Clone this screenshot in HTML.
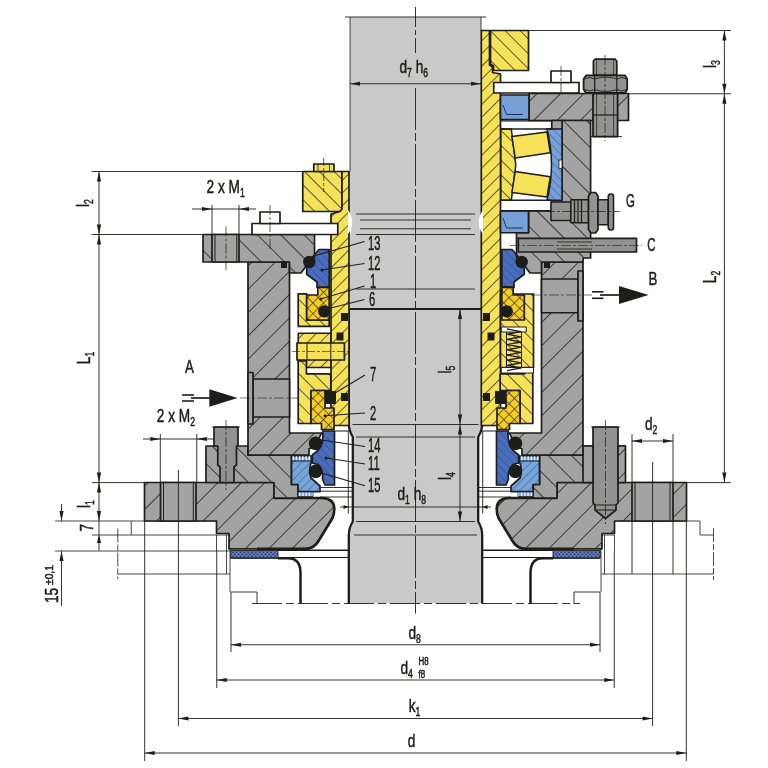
<!DOCTYPE html>
<html><head><meta charset="utf-8"><title>Seal drawing</title>
<style>html,body{margin:0;padding:0;background:#fff}svg{display:block;will-change:transform}text{font-family:"Liberation Sans",sans-serif;fill:#1d1d1b;stroke:#1d1d1b;stroke-width:0.5px}</style>
</head><body>
<svg width="768" height="768" viewBox="0 0 768 768">
<rect width="768" height="768" fill="#fff"/>
<defs>
<pattern id="hg" patternUnits="userSpaceOnUse" width="16.5" height="16.5" patternTransform="rotate(-45)"><line x1="0" y1="0" x2="16.5" y2="0" stroke="#1d1d1b" stroke-width="1.55"/></pattern>
<pattern id="hgb" patternUnits="userSpaceOnUse" width="16.5" height="16.5" patternTransform="rotate(45)"><line x1="0" y1="0" x2="16.5" y2="0" stroke="#1d1d1b" stroke-width="1.55"/></pattern>
<pattern id="hy" patternUnits="userSpaceOnUse" width="9" height="9" patternTransform="rotate(-45)"><line x1="0" y1="0" x2="9" y2="0" stroke="#1d1d1b" stroke-width="1.35"/></pattern>
<pattern id="hyb" patternUnits="userSpaceOnUse" width="10.5" height="10.5" patternTransform="rotate(45)"><line x1="0" y1="0" x2="10.5" y2="0" stroke="#1d1d1b" stroke-width="1.35"/></pattern>
<pattern id="hx" patternUnits="userSpaceOnUse" width="7.5" height="7.5" patternTransform="rotate(45)"><line x1="0" y1="0" x2="7.5" y2="0" stroke="#1d1d1b" stroke-width="1.2"/><line x1="0" y1="0" x2="0" y2="7.5" stroke="#1d1d1b" stroke-width="1.2"/></pattern>
<pattern id="hb" patternUnits="userSpaceOnUse" width="6" height="6" patternTransform="rotate(-45)"><line x1="0" y1="0" x2="6" y2="0" stroke="#1c2f6a" stroke-width="0.7"/></pattern>
<pattern id="hbb" patternUnits="userSpaceOnUse" width="6" height="6" patternTransform="rotate(45)"><line x1="0" y1="0" x2="6" y2="0" stroke="#1c2f6a" stroke-width="0.7"/></pattern>
<pattern id="gk" patternUnits="userSpaceOnUse" width="2.7" height="2.7" patternTransform="rotate(45)"><line x1="0" y1="0" x2="2.7" y2="0" stroke="#a9c6ea" stroke-width="0.85"/><line x1="0" y1="0" x2="0" y2="2.7" stroke="#a9c6ea" stroke-width="0.85"/></pattern>
</defs>
<path d="M 350 17 L 350 309 L 348.8 309 L 348.8 424 Q 349 431 352.8 437 L 352.8 521.5 Q 348.8 528 348.8 535 L 348.8 603.5 L 482.2 603.5 L 482.2 535 Q 482.2 528 478.2 521.5 L 478.2 437 Q 482 431 482.2 424 L 482.2 309 L 481 309 L 481 17 Z" fill="#c9c9c9" stroke="none" stroke-width="1.7" stroke-linejoin="round" />
<line x1="345" y1="17" x2="486" y2="17" stroke="#1d1d1b" stroke-width="0.9"/>
<line x1="350" y1="17" x2="350" y2="171.5" stroke="#1d1d1b" stroke-width="0.8"/>
<line x1="481" y1="17" x2="481" y2="30.5" stroke="#1d1d1b" stroke-width="0.8"/>
<path d="M 348.8 309 L 348.8 424 Q 349 431 352.8 437 L 352.8 521.5 Q 348.8 528 348.8 535 L 348.8 603.5" fill="none" stroke="#1d1d1b" stroke-width="2.3" stroke-linejoin="round" />
<path d="M 482.2 309 L 482.2 424 Q 482 431 478.2 437 L 478.2 521.5 Q 482.2 528 482.2 535 L 482.2 603.5" fill="none" stroke="#1d1d1b" stroke-width="2.3" stroke-linejoin="round" />
<line x1="350" y1="309" x2="481" y2="309" stroke="#1d1d1b" stroke-width="2"/>
<line x1="356" y1="214" x2="475" y2="214" stroke="#1d1d1b" stroke-width="0.9"/>
<line x1="360" y1="220" x2="471" y2="220" stroke="#1d1d1b" stroke-width="0.9"/>
<line x1="360" y1="228.75" x2="471" y2="228.75" stroke="#1d1d1b" stroke-width="0.9"/>
<line x1="356" y1="234.5" x2="475" y2="234.5" stroke="#1d1d1b" stroke-width="0.9"/>
<line x1="356" y1="289" x2="475" y2="289" stroke="#1d1d1b" stroke-width="0.9"/>
<line x1="356" y1="437" x2="475" y2="437" stroke="#1d1d1b" stroke-width="0.9"/>
<line x1="356" y1="521.5" x2="475" y2="521.5" stroke="#1d1d1b" stroke-width="0.9"/>
<line x1="352.5" y1="424.5" x2="478.5" y2="424.5" stroke="#1d1d1b" stroke-width="0.9"/>
<line x1="354" y1="535" x2="477" y2="535" stroke="#1d1d1b" stroke-width="0.9"/>
<path d="M 350 212 Q 353.4 224 350 236 Z" fill="#fff" stroke="none" stroke-width="1.7" stroke-linejoin="round" />
<path d="M 481 212 Q 477.6 224 481 236 Z" fill="#fff" stroke="none" stroke-width="1.7" stroke-linejoin="round" />
<line x1="55" y1="521" x2="216.5" y2="521" stroke="#1d1d1b" stroke-width="0.8"/>
<line x1="92" y1="535" x2="229" y2="535" stroke="#1d1d1b" stroke-width="0.8"/>
<line x1="55" y1="551" x2="230" y2="551" stroke="#1d1d1b" stroke-width="0.8"/>
<line x1="118" y1="574" x2="230" y2="574" stroke="#1d1d1b" stroke-width="0.8"/>
<line x1="131.25" y1="521" x2="131.25" y2="535" stroke="#1d1d1b" stroke-width="0.8"/>
<line x1="117.75" y1="528.5" x2="117.75" y2="579" stroke="#1d1d1b" stroke-width="0.8" stroke-dasharray="14 2 6 2"/>
<line x1="226.5" y1="535" x2="226.5" y2="574" stroke="#1d1d1b" stroke-width="0.8"/>
<line x1="604.5" y1="535" x2="604.5" y2="574" stroke="#1d1d1b" stroke-width="0.8"/>
<line x1="230" y1="535" x2="230" y2="592" stroke="#1d1d1b" stroke-width="0.8"/>
<line x1="601" y1="535" x2="601" y2="592" stroke="#1d1d1b" stroke-width="0.8"/>
<line x1="216.5" y1="535" x2="216.5" y2="551" stroke="#1d1d1b" stroke-width="0.8"/>
<line x1="614.5" y1="535" x2="614.5" y2="551" stroke="#1d1d1b" stroke-width="0.8"/>
<path d="M 231 592 L 257 592 L 257 604" fill="none" stroke="#1d1d1b" stroke-width="0.9" stroke-linejoin="round" />
<path d="M 600 592 L 574 592 L 574 604" fill="none" stroke="#1d1d1b" stroke-width="0.9" stroke-linejoin="round" />
<line x1="614.5" y1="521" x2="700" y2="521" stroke="#1d1d1b" stroke-width="0.8"/>
<path d="M 700 521 L 700 535 L 713.5 535" fill="none" stroke="#1d1d1b" stroke-width="0.8" stroke-linejoin="round" />
<line x1="713.5" y1="528" x2="713.5" y2="580" stroke="#1d1d1b" stroke-width="0.8" stroke-dasharray="14 2 6 2"/>
<line x1="601" y1="574" x2="713.5" y2="574" stroke="#1d1d1b" stroke-width="0.8"/>
<line x1="601" y1="535" x2="614.5" y2="535" stroke="#1d1d1b" stroke-width="0.8"/>
<line x1="252" y1="603.5" x2="580" y2="603.5" stroke="#1d1d1b" stroke-width="0.9" stroke-dasharray="30 4 8 4"/>
<path d="M 144.5 482.5 L 274 482.5 L 274 498 L 322 498 Q 334.3 498.5 334.3 509 Q 334.3 514 332.5 518 L 318.5 541 Q 314 548.8 305 548.8 L 229 548.8 L 229 533.5 L 216.5 533.5 L 216.5 521 L 144.5 521 Z" fill="#a3a3a3" stroke="none"/>
<path d="M 144.5 482.5 L 274 482.5 L 274 498 L 322 498 Q 334.3 498.5 334.3 509 Q 334.3 514 332.5 518 L 318.5 541 Q 314 548.8 305 548.8 L 229 548.8 L 229 533.5 L 216.5 533.5 L 216.5 521 L 144.5 521 Z" fill="url(#hg)" stroke="#1d1d1b" stroke-width="1.7" stroke-linejoin="round" />
<path d="M 686.5 482.5 L 557 482.5 L 557 498 L 509 498 Q 496.7 498.5 496.7 509 Q 496.7 514 498.5 518 L 512.5 541 Q 517 548.8 526 548.8 L 602 548.8 L 602 533.5 L 614.5 533.5 L 614.5 521 L 686.5 521 Z" fill="#a3a3a3" stroke="none"/>
<path d="M 686.5 482.5 L 557 482.5 L 557 498 L 509 498 Q 496.7 498.5 496.7 509 Q 496.7 514 498.5 518 L 512.5 541 Q 517 548.8 526 548.8 L 602 548.8 L 602 533.5 L 614.5 533.5 L 614.5 521 L 686.5 521 Z" fill="url(#hg)" stroke="#1d1d1b" stroke-width="1.7" stroke-linejoin="round" />
<path d="M 274 498 L 322 498 Q 334.3 498.5 334.3 509 Q 334.3 514 332.5 518 L 318.5 541 Q 314 548.8 305 548.8 L 257 548.8" fill="none" stroke="#1d1d1b" stroke-width="2.6" stroke-linejoin="round" />
<path d="M 557 498 L 509 498 Q 496.7 498.5 496.7 509 Q 496.7 514 498.5 518 L 512.5 541 Q 517 548.8 526 548.8 L 574 548.8" fill="none" stroke="#1d1d1b" stroke-width="2.6" stroke-linejoin="round" />
<path d="M 160.5 482.5 L 196 482.5 L 196 521 L 160.5 521 Z" fill="#a3a3a3" stroke="#1d1d1b" stroke-width="1.7" stroke-linejoin="round" />
<line x1="163.5" y1="482.5" x2="163.5" y2="521" stroke="#1d1d1b" stroke-width="1.0"/>
<line x1="193.3" y1="482.5" x2="193.3" y2="521" stroke="#1d1d1b" stroke-width="1.0"/>
<path d="M 632 482.5 L 673 482.5 L 673 521 L 632 521 Z" fill="#a3a3a3" stroke="#1d1d1b" stroke-width="1.7" stroke-linejoin="round" />
<line x1="635" y1="482.5" x2="635" y2="521" stroke="#1d1d1b" stroke-width="1.0"/>
<line x1="670" y1="482.5" x2="670" y2="521" stroke="#1d1d1b" stroke-width="1.0"/>
<path d="M 230.75 550.5 L 278 550.5 L 278 558.3 L 230.75 558.3 Z" fill="#2c4584" stroke="none"/>
<path d="M 230.75 550.5 L 278 550.5 L 278 558.3 L 230.75 558.3 Z" fill="url(#gk)" stroke="#1d1d1b" stroke-width="0.9" stroke-linejoin="round" />
<path d="M 600.25 550.5 L 553 550.5 L 553 558.3 L 600.25 558.3 Z" fill="#2c4584" stroke="none"/>
<path d="M 600.25 550.5 L 553 550.5 L 553 558.3 L 600.25 558.3 Z" fill="url(#gk)" stroke="#1d1d1b" stroke-width="0.9" stroke-linejoin="round" />
<path d="M 278 558.3 L 288 558.3 Q 300.5 558.3 300.5 573 L 300.5 603.5" fill="none" stroke="#1d1d1b" stroke-width="2.5" stroke-linejoin="round" />
<path d="M 553 558.3 L 543 558.3 Q 530.5 558.3 530.5 573 L 530.5 603.5" fill="none" stroke="#1d1d1b" stroke-width="2.5" stroke-linejoin="round" />
<line x1="231" y1="558" x2="278" y2="558" stroke="#1d1d1b" stroke-width="1.2"/>
<line x1="600" y1="558" x2="553" y2="558" stroke="#1d1d1b" stroke-width="1.2"/>
<line x1="278" y1="550.3" x2="349" y2="550.3" stroke="#1d1d1b" stroke-width="1.6"/>
<line x1="553" y1="550.3" x2="482" y2="550.3" stroke="#1d1d1b" stroke-width="1.6"/>
<line x1="288" y1="557.5" x2="349" y2="557.5" stroke="#1d1d1b" stroke-width="1.0"/>
<line x1="543" y1="557.5" x2="482" y2="557.5" stroke="#1d1d1b" stroke-width="1.0"/>
<path d="M 206 446 L 248 446 L 248 455.2 L 291.5 455.2 L 291.5 484.5 L 298 484.5 L 298 498 L 274 498 L 274 482.5 L 206 482.5 Z" fill="#a3a3a3" stroke="none"/>
<path d="M 206 446 L 248 446 L 248 455.2 L 291.5 455.2 L 291.5 484.5 L 298 484.5 L 298 498 L 274 498 L 274 482.5 L 206 482.5 Z" fill="url(#hgb)" stroke="#1d1d1b" stroke-width="1.7" stroke-linejoin="round" />
<path d="M 625 446 L 583 446 L 583 455.2 L 539.5 455.2 L 539.5 484.5 L 533 484.5 L 533 498 L 557 498 L 557 482.5 L 625 482.5 Z" fill="#a3a3a3" stroke="none"/>
<path d="M 625 446 L 583 446 L 583 455.2 L 539.5 455.2 L 539.5 484.5 L 533 484.5 L 533 498 L 557 498 L 557 482.5 L 625 482.5 Z" fill="url(#hgb)" stroke="#1d1d1b" stroke-width="1.7" stroke-linejoin="round" />
<path d="M 214 427 L 238 427 L 238 446 L 236.5 446 L 236.5 465 L 234 467 L 234 482.5 L 220 482.5 L 220 467 L 217.75 465 L 217.75 446 L 214 446 Z" fill="#929292" stroke="#1d1d1b" stroke-width="1.7" stroke-linejoin="round" />
<line x1="212" y1="427" x2="240" y2="427" stroke="#1d1d1b" stroke-width="0.8"/>
<line x1="226" y1="420" x2="226" y2="490" stroke="#1d1d1b" stroke-width="0.7" stroke-dasharray="10 2 3 2"/>
<path d="M 593 427 L 618 427 L 618 503 L 616 505 L 616 510 L 605.5 518.5 L 595 510 L 595 505 L 593 503 Z" fill="#929292" stroke="#1d1d1b" stroke-width="1.7" stroke-linejoin="round" />
<line x1="591" y1="427" x2="620" y2="427" stroke="#1d1d1b" stroke-width="0.8"/>
<line x1="595" y1="505" x2="616" y2="505" stroke="#1d1d1b" stroke-width="1.0"/>
<line x1="595" y1="510" x2="616" y2="510" stroke="#1d1d1b" stroke-width="1.0"/>
<path d="M 583 446 L 593 446 L 593 482.5 L 583 482.5 Z" fill="#a3a3a3" stroke="#1d1d1b" stroke-width="1.7" stroke-linejoin="round" />
<path d="M 618 446 L 625.5 446 L 625.5 482.5 L 618 482.5 Z" fill="#a3a3a3" stroke="none"/>
<path d="M 618 446 L 625.5 446 L 625.5 482.5 L 618 482.5 Z" fill="url(#hg)" stroke="#1d1d1b" stroke-width="1.7" stroke-linejoin="round" />
<line x1="605.5" y1="420" x2="605.5" y2="524" stroke="#1d1d1b" stroke-width="0.7" stroke-dasharray="10 2 3 2"/>
<path d="M 248 262 L 289.5 262 L 289.5 433 L 321.5 433 L 316 445 L 309 449 L 309 455.2 L 248 455.2 Z" fill="#a3a3a3" stroke="none"/>
<path d="M 248 262 L 289.5 262 L 289.5 433 L 321.5 433 L 316 445 L 309 449 L 309 455.2 L 248 455.2 Z" fill="url(#hg)" stroke="#1d1d1b" stroke-width="1.7" stroke-linejoin="round" />
<path d="M 583 262 L 541.5 262 L 541.5 433 L 509.5 433 L 515 445 L 522 449 L 522 455.2 L 583 455.2 Z" fill="#a3a3a3" stroke="none"/>
<path d="M 583 262 L 541.5 262 L 541.5 433 L 509.5 433 L 515 445 L 522 449 L 522 455.2 L 583 455.2 Z" fill="url(#hg)" stroke="#1d1d1b" stroke-width="1.7" stroke-linejoin="round" />
<path d="M 253 379 L 289.5 379 L 289.5 417 L 253 417 Z" fill="#a3a3a3" stroke="#1d1d1b" stroke-width="1.7" stroke-linejoin="round" />
<path d="M 248 372.5 L 253 372.5 L 253 424 L 248 424 Z" fill="#a3a3a3" stroke="#1d1d1b" stroke-width="1.7" stroke-linejoin="round" />
<line x1="240" y1="398" x2="300" y2="398" stroke="#1d1d1b" stroke-width="0.6" stroke-dasharray="10 2 3 2"/>
<path d="M 541.5 279 L 578 279 L 578 312.75 L 541.5 312.75 Z" fill="#a3a3a3" stroke="#1d1d1b" stroke-width="1.7" stroke-linejoin="round" />
<path d="M 578 271 L 583 271 L 583 321 L 578 321 Z" fill="#a3a3a3" stroke="#1d1d1b" stroke-width="1.7" stroke-linejoin="round" />
<line x1="532" y1="295" x2="592" y2="295" stroke="#1d1d1b" stroke-width="0.6" stroke-dasharray="10 2 3 2"/>
<path d="M 203 234.5 L 314.5 234.5 L 314.5 254.7 L 301 273 L 289.5 273 L 289.5 262 L 203 262 Z" fill="#a3a3a3" stroke="none"/>
<path d="M 203 234.5 L 314.5 234.5 L 314.5 254.7 L 301 273 L 289.5 273 L 289.5 262 L 203 262 Z" fill="url(#hgb)" stroke="#1d1d1b" stroke-width="1.7" stroke-linejoin="round" />
<path d="M 212 234.5 L 239 234.5 L 239 262 L 212 262 Z" fill="#a3a3a3" stroke="#1d1d1b" stroke-width="1.7" stroke-linejoin="round" />
<line x1="215" y1="234.5" x2="215" y2="262" stroke="#1d1d1b" stroke-width="1.0"/>
<line x1="236.8" y1="234.5" x2="236.8" y2="262" stroke="#1d1d1b" stroke-width="1.0"/>
<line x1="226" y1="226.5" x2="226" y2="270" stroke="#1d1d1b" stroke-width="0.7" stroke-dasharray="10 2 3 2"/>
<path d="M 281 261.5 L 287 261.5 L 287 268 L 281 268 Z" fill="#1d1d1b" stroke="none" stroke-width="1.7" stroke-linejoin="round" />
<path d="M 550 261.5 L 544 261.5 L 544 268 L 550 268 Z" fill="#1d1d1b" stroke="none" stroke-width="1.7" stroke-linejoin="round" />
<path d="M 302.75 171.5 L 342 171.5 L 342 211.5 L 302.75 211.5 Z" fill="#f6e258" stroke="none"/>
<path d="M 302.75 171.5 L 342 171.5 L 342 211.5 L 302.75 211.5 Z" fill="url(#hyb)" stroke="#1d1d1b" stroke-width="1.7" stroke-linejoin="round" />
<path d="M 313.75 164 L 334 164 L 334 171.5 L 313.75 171.5 Z" fill="#f6e258" stroke="#1d1d1b" stroke-width="1.7" stroke-linejoin="round" />
<line x1="318" y1="164" x2="318" y2="171.5" stroke="#1d1d1b" stroke-width="0.8"/>
<line x1="329.5" y1="164" x2="329.5" y2="171.5" stroke="#1d1d1b" stroke-width="0.8"/>
<line x1="323.7" y1="158" x2="323.7" y2="192" stroke="#1d1d1b" stroke-width="0.7" stroke-dasharray="8 2 3 2"/>
<path d="M 342 171.5 L 349 171.5 L 349 425.5 L 331 425.5 L 331 214 L 340 211.5 L 342 209 Z" fill="#f6e258" stroke="none"/>
<path d="M 342 171.5 L 349 171.5 L 349 425.5 L 331 425.5 L 331 214 L 340 211.5 L 342 209 Z" fill="url(#hy)" stroke="#1d1d1b" stroke-width="1.7" stroke-linejoin="round" />
<path d="M 252 223.5 L 337.75 223.5 L 337.75 234.5 L 252 234.5 Z" fill="#fff" stroke="#1d1d1b" stroke-width="1.7" stroke-linejoin="round" />
<path d="M 260 212 L 280 212 L 280 223.5 L 260 223.5 Z" fill="#fff" stroke="#1d1d1b" stroke-width="1.7" stroke-linejoin="round" />
<line x1="270" y1="205" x2="270" y2="250" stroke="#1d1d1b" stroke-width="0.7" stroke-dasharray="10 2 3 2"/>
<path d="M 481.3 30.5 L 489.5 30.5 L 489.5 65 L 492.5 67 L 492.5 72.5 L 500.5 74 L 500.5 425.5 L 481.3 425.5 Z" fill="#f6e258" stroke="none"/>
<path d="M 481.3 30.5 L 489.5 30.5 L 489.5 65 L 492.5 67 L 492.5 72.5 L 500.5 74 L 500.5 425.5 L 481.3 425.5 Z" fill="url(#hy)" stroke="#1d1d1b" stroke-width="1.7" stroke-linejoin="round" />
<path d="M 490.5 30.5 L 528.5 30.5 L 528.5 70.5 L 493.5 70.5 L 493.5 66 L 490.5 64 Z" fill="#f6e258" stroke="none"/>
<path d="M 490.5 30.5 L 528.5 30.5 L 528.5 70.5 L 493.5 70.5 L 493.5 66 L 490.5 64 Z" fill="url(#hyb)" stroke="#1d1d1b" stroke-width="1.7" stroke-linejoin="round" />
<path d="M 493.75 82.5 L 579 82.5 L 579 93 L 493.75 93 Z" fill="#fff" stroke="#1d1d1b" stroke-width="1.7" stroke-linejoin="round" />
<path d="M 551 71 L 571 71 L 571 82.5 L 551 82.5 Z" fill="#fff" stroke="#1d1d1b" stroke-width="1.7" stroke-linejoin="round" />
<line x1="561" y1="66" x2="561" y2="110" stroke="#1d1d1b" stroke-width="0.7" stroke-dasharray="10 2 3 2"/>
<path d="M 529 93.5 L 628.5 93.5 L 628.5 120.5 L 529 120.5 Z" fill="#a3a3a3" stroke="none"/>
<path d="M 529 93.5 L 628.5 93.5 L 628.5 120.5 L 529 120.5 Z" fill="url(#hg)" stroke="#1d1d1b" stroke-width="1.7" stroke-linejoin="round" />
<path d="M 562 120.5 L 590.6 120.5 L 590.6 258 L 583.3 258 L 583 262 L 541.5 262 L 541.5 273 L 530 273 L 516.5 254.7 L 516.5 232.75 L 528.5 232.75 L 528.5 211 L 551.6 210.7 L 551.6 200.3 L 562 200.3 Z" fill="#a3a3a3" stroke="none"/>
<path d="M 562 120.5 L 590.6 120.5 L 590.6 258 L 583.3 258 L 583 262 L 541.5 262 L 541.5 273 L 530 273 L 516.5 254.7 L 516.5 232.75 L 528.5 232.75 L 528.5 211 L 551.6 210.7 L 551.6 200.3 L 562 200.3 Z" fill="url(#hgb)" stroke="#1d1d1b" stroke-width="1.7" stroke-linejoin="round" />
<path d="M 551.7 120.5 L 562 120.5 L 562 129.4 L 551.7 129.4 Z" fill="#a3a3a3" stroke="#1d1d1b" stroke-width="1.5" stroke-linejoin="round" />
<path d="M 593.4 61 L 595 59.2 L 615.2 59.2 L 616.8 61 L 616.8 75.4 L 593.4 75.4 Z" fill="#929292" stroke="#1d1d1b" stroke-width="1.7" stroke-linejoin="round" />
<path d="M 583.6 79 L 586 75.4 L 625 75.4 L 627.2 79 L 627.2 89.5 L 625 93 L 586 93 L 583.6 89.5 Z" fill="#929292" stroke="#1d1d1b" stroke-width="1.8" stroke-linejoin="round" />
<line x1="594.7" y1="75.4" x2="594.7" y2="93" stroke="#1d1d1b" stroke-width="1.2"/>
<line x1="616.8" y1="75.4" x2="616.8" y2="93" stroke="#1d1d1b" stroke-width="1.2"/>
<path d="M 584.5 79 Q 589.5 76 594.7 79 Q 605.7 75 616.8 79 Q 622 76 626.5 79" fill="none" stroke="#1d1d1b" stroke-width="0.9" stroke-linejoin="round" />
<path d="M 584.5 89.5 Q 589.5 92.5 594.7 89.5 Q 605.7 93.5 616.8 89.5 Q 622 92.5 626.5 89.5" fill="none" stroke="#1d1d1b" stroke-width="0.9" stroke-linejoin="round" />
<path d="M 593 93.6 L 617.6 93.6 L 617.6 136.6 L 593 136.6 Z" fill="#929292" stroke="#1d1d1b" stroke-width="1.8" stroke-linejoin="round" />
<line x1="593" y1="115" x2="617.6" y2="115" stroke="#1d1d1b" stroke-width="1.2"/>
<line x1="596.6" y1="59.2" x2="596.6" y2="75.4" stroke="#1d1d1b" stroke-width="0.7"/>
<line x1="613.6" y1="59.2" x2="613.6" y2="75.4" stroke="#1d1d1b" stroke-width="0.7"/>
<line x1="596.6" y1="93.6" x2="596.6" y2="136.6" stroke="#1d1d1b" stroke-width="0.7"/>
<line x1="613.6" y1="93.6" x2="613.6" y2="136.6" stroke="#1d1d1b" stroke-width="0.7"/>
<line x1="590" y1="136.6" x2="622" y2="136.6" stroke="#1d1d1b" stroke-width="0.9"/>
<line x1="605" y1="55" x2="605" y2="141" stroke="#1d1d1b" stroke-width="0.7" stroke-dasharray="10 2 3 2"/>
<path d="M 500.5 95 L 529 95 L 529 119.5 L 500.5 119.5 Z" fill="#77a0d6" stroke="#1d1d1b" stroke-width="1.7" stroke-linejoin="round" />
<path d="M 503 105 L 506.5 114.5 L 523 114.5" fill="none" stroke="#1c2f6a" stroke-width="1.0" stroke-linejoin="round" />
<path d="M 500.5 211 L 528.5 211 L 528.5 232.75 L 500.5 232.75 Z" fill="#77a0d6" stroke="#1d1d1b" stroke-width="1.7" stroke-linejoin="round" />
<path d="M 503 218 L 506.5 228 L 523 228" fill="none" stroke="#1c2f6a" stroke-width="1.0" stroke-linejoin="round" />
<path d="M 500.9 129 L 511.3 129 L 515.8 165 L 511.3 200.3 L 500.9 200.3 Z" fill="#f6e258" stroke="none"/>
<path d="M 500.9 129 L 511.3 129 L 515.8 165 L 511.3 200.3 L 500.9 200.3 Z" fill="url(#hyb)" stroke="#1d1d1b" stroke-width="1.5" stroke-linejoin="round" />
<path d="M 547 129 L 562 129 L 562 200.3 L 547 200.3 Q 556 165 547 129 Z" fill="#77a0d6" stroke="none"/>
<path d="M 547 129 L 562 129 L 562 200.3 L 547 200.3 Q 556 165 547 129 Z" fill="url(#hbb)" stroke="#1d1d1b" stroke-width="1.5" stroke-linejoin="round" />
<path d="M 559 160 L 562 160 L 562 168.4 L 559 168.4 Z" fill="#fff" stroke="#1d1d1b" stroke-width="0.8" stroke-linejoin="round" />
<path d="M 511.9 136.5 L 547 132 L 550.3 152.8 L 515.2 158 Z" fill="#f6e258" stroke="#1d1d1b" stroke-width="1.5" stroke-linejoin="round" />
<path d="M 515.2 171.6 L 550.3 176.8 L 547 197 L 511.9 192.5 Z" fill="#f6e258" stroke="#1d1d1b" stroke-width="1.5" stroke-linejoin="round" />
<line x1="500.5" y1="129" x2="551.6" y2="129" stroke="#1d1d1b" stroke-width="1.4"/>
<line x1="500.5" y1="200.3" x2="551.6" y2="200.3" stroke="#1d1d1b" stroke-width="1.4"/>
<line x1="500.5" y1="210.7" x2="551.6" y2="210.7" stroke="#1d1d1b" stroke-width="1.4"/>
<line x1="500.5" y1="120.9" x2="551.6" y2="120.9" stroke="#1d1d1b" stroke-width="1.4"/>
<line x1="551.6" y1="120.9" x2="551.6" y2="129" stroke="#1d1d1b" stroke-width="1.4"/>
<line x1="551.6" y1="200.3" x2="551.6" y2="210.7" stroke="#1d1d1b" stroke-width="1.4"/>
<path d="M 551 202 L 570.8 202 L 570.8 220.6 L 551 220.6 Z" fill="#929292" stroke="#1d1d1b" stroke-width="1.5" stroke-linejoin="round" />
<path d="M 570.8 199.8 L 588.5 199.8 L 588.5 222.7 L 570.8 222.7 Z" fill="#929292" stroke="#1d1d1b" stroke-width="1.5" stroke-linejoin="round" />
<line x1="574.5" y1="199.8" x2="574.5" y2="222.7" stroke="#1d1d1b" stroke-width="1.2"/>
<line x1="578" y1="199.8" x2="578" y2="222.7" stroke="#1d1d1b" stroke-width="1.2"/>
<line x1="581.5" y1="199.8" x2="581.5" y2="222.7" stroke="#1d1d1b" stroke-width="1.2"/>
<path d="M 588.5 196 L 591 192.5 L 595.5 192.5 L 598 196 L 598 229.5 L 595.5 233 L 591 233 L 588.5 229.5 Z" fill="#929292" stroke="#1d1d1b" stroke-width="1.7" stroke-linejoin="round" />
<path d="M 598 199.8 L 608.3 199.8 L 608.3 224.8 L 598 224.8 Z" fill="#929292" stroke="#1d1d1b" stroke-width="1.6" stroke-linejoin="round" />
<path d="M 608.3 196.5 Q 608.3 194 610.9 194 Q 613.5 194 613.5 196.5 L 613.5 227.5 Q 613.5 230 610.9 230 Q 608.3 230 608.3 227.5 Z" fill="#929292" stroke="#1d1d1b" stroke-width="1.6" stroke-linejoin="round" />
<line x1="545" y1="211.5" x2="620" y2="211.5" stroke="#1d1d1b" stroke-width="0.7" stroke-dasharray="10 2 3 2"/>
<path d="M 518.3 238.3 L 636.5 238.3 L 636.5 252 L 518.3 252 Z" fill="#929292" stroke="#1d1d1b" stroke-width="1.7" stroke-linejoin="round" />
<line x1="510" y1="245.5" x2="642" y2="245.5" stroke="#1d1d1b" stroke-width="0.6" stroke-dasharray="10 2 3 2"/>
<line x1="557" y1="242" x2="592" y2="242" stroke="#1d1d1b" stroke-width="0.8"/>
<line x1="557" y1="249" x2="592" y2="249" stroke="#1d1d1b" stroke-width="0.8"/>
<path d="M 319 249.5 L 329.2 249.5 L 329.2 287.3 L 317 287.3 L 317 282 L 306.7 274.3 L 306.7 268 L 313 262 L 315 254 Z" fill="#4a6ebd" stroke="none"/>
<path d="M 319 249.5 L 329.2 249.5 L 329.2 287.3 L 317 287.3 L 317 282 L 306.7 274.3 L 306.7 268 L 313 262 L 315 254 Z" fill="url(#hbb)" stroke="#1d1d1b" stroke-width="1.7" stroke-linejoin="round" />
<path d="M 512 249.5 L 501.8 249.5 L 501.8 287.3 L 514 287.3 L 514 282 L 524.3 274.3 L 524.3 268 L 518 262 L 516 254 Z" fill="#4a6ebd" stroke="none"/>
<path d="M 512 249.5 L 501.8 249.5 L 501.8 287.3 L 514 287.3 L 514 282 L 524.3 274.3 L 524.3 268 L 518 262 L 516 254 Z" fill="url(#hbb)" stroke="#1d1d1b" stroke-width="1.7" stroke-linejoin="round" />
<circle cx="309.3" cy="262" r="6.2" fill="#1d1d1b"/>
<circle cx="521.7" cy="262" r="6.2" fill="#1d1d1b"/>
<path d="M 298.2 293.8 L 306.7 293.8 L 306.7 320 L 329.2 320 L 329.2 326.4 L 298.2 326.4 Z" fill="#f6e258" stroke="none"/>
<path d="M 298.2 293.8 L 306.7 293.8 L 306.7 320 L 329.2 320 L 329.2 326.4 L 298.2 326.4 Z" fill="url(#hyb)" stroke="#1d1d1b" stroke-width="1.7" stroke-linejoin="round" />
<path d="M 317.8 287.3 L 329.2 287.3 L 329.2 320 L 306.7 320 L 306.7 295 L 317.8 295 Z" fill="#f5cc22" stroke="none"/>
<path d="M 317.8 287.3 L 329.2 287.3 L 329.2 320 L 306.7 320 L 306.7 295 L 317.8 295 Z" fill="url(#hx)" stroke="#1d1d1b" stroke-width="1.7" stroke-linejoin="round" />
<path d="M 513.2 287.3 L 501.8 287.3 L 501.8 320 L 524.3 320 L 524.3 295 L 513.2 295 Z" fill="#f5cc22" stroke="none"/>
<path d="M 513.2 287.3 L 501.8 287.3 L 501.8 320 L 524.3 320 L 524.3 295 L 513.2 295 Z" fill="url(#hx)" stroke="#1d1d1b" stroke-width="1.7" stroke-linejoin="round" />
<circle cx="324.3" cy="311.4" r="6.2" fill="#1d1d1b"/>
<circle cx="506.7" cy="311.4" r="6.2" fill="#1d1d1b"/>
<path d="M 298.2 333.3 L 330.8 333.3 L 330.8 367.4 L 306.4 367.4 L 306.4 361 L 298.2 361 Z" fill="#f6e258" stroke="none"/>
<path d="M 298.2 333.3 L 330.8 333.3 L 330.8 367.4 L 306.4 367.4 L 306.4 361 L 298.2 361 Z" fill="url(#hy)" stroke="#1d1d1b" stroke-width="1.5" stroke-linejoin="round" />
<path d="M 297 343 L 344.4 343 L 344.4 360 L 297 360 Z" fill="#f6e258" stroke="#1d1d1b" stroke-width="1.7" stroke-linejoin="round" />
<line x1="307" y1="343" x2="307" y2="360" stroke="#1d1d1b" stroke-width="1"/>
<line x1="330.8" y1="343" x2="330.8" y2="360" stroke="#1d1d1b" stroke-width="1"/>
<line x1="292" y1="351.5" x2="349" y2="351.5" stroke="#1d1d1b" stroke-width="0.6" stroke-dasharray="8 2 3 2"/>
<path d="M 298.2 361 L 306.4 361 L 306.4 373.8 L 330.8 373.8 L 330.8 390.5 L 311 390.5 L 311 423.5 L 298.2 423.5 Z" fill="#f6e258" stroke="none"/>
<path d="M 298.2 361 L 306.4 361 L 306.4 373.8 L 330.8 373.8 L 330.8 390.5 L 311 390.5 L 311 423.5 L 298.2 423.5 Z" fill="url(#hyb)" stroke="#1d1d1b" stroke-width="1.7" stroke-linejoin="round" />
<path d="M 532.8 361 L 524.6 361 L 524.6 373.8 L 500.2 373.8 L 500.2 390.5 L 520 390.5 L 520 423.5 L 532.8 423.5 Z" fill="#f6e258" stroke="none"/>
<path d="M 532.8 361 L 524.6 361 L 524.6 373.8 L 500.2 373.8 L 500.2 390.5 L 520 390.5 L 520 423.5 L 532.8 423.5 Z" fill="url(#hyb)" stroke="#1d1d1b" stroke-width="1.7" stroke-linejoin="round" />
<path d="M 311 390.5 L 325 390.5 L 325 408 L 334 408 L 334 429.5 L 321.5 429.5 L 321.5 423.5 L 311 423.5 Z" fill="#f5cc22" stroke="none"/>
<path d="M 311 390.5 L 325 390.5 L 325 408 L 334 408 L 334 429.5 L 321.5 429.5 L 321.5 423.5 L 311 423.5 Z" fill="url(#hx)" stroke="#1d1d1b" stroke-width="1.7" stroke-linejoin="round" />
<path d="M 520 390.5 L 506 390.5 L 506 408 L 497 408 L 497 429.5 L 509.5 429.5 L 509.5 423.5 L 520 423.5 Z" fill="#f5cc22" stroke="none"/>
<path d="M 520 390.5 L 506 390.5 L 506 408 L 497 408 L 497 429.5 L 509.5 429.5 L 509.5 423.5 L 520 423.5 Z" fill="url(#hx)" stroke="#1d1d1b" stroke-width="1.7" stroke-linejoin="round" />
<path d="M 325 391 L 336 391 L 336 404 L 325 404 Z" fill="#1d1d1b" stroke="none" stroke-width="1.7" stroke-linejoin="round" />
<path d="M 506 391 L 495 391 L 495 404 L 506 404 Z" fill="#1d1d1b" stroke="none" stroke-width="1.7" stroke-linejoin="round" />
<path d="M 341.0 313.0 L 348.0 313.0 L 348.0 321.0 L 341.0 321.0 Z" fill="#1d1d1b" stroke="none" stroke-width="1.7" stroke-linejoin="round" />
<path d="M 490 313 L 483 313 L 483 321 L 490 321 Z" fill="#1d1d1b" stroke="none" stroke-width="1.7" stroke-linejoin="round" />
<path d="M 336.5 332.5 L 343.5 332.5 L 343.5 340.5 L 336.5 340.5 Z" fill="#1d1d1b" stroke="none" stroke-width="1.7" stroke-linejoin="round" />
<path d="M 494.5 332.5 L 487.5 332.5 L 487.5 340.5 L 494.5 340.5 Z" fill="#1d1d1b" stroke="none" stroke-width="1.7" stroke-linejoin="round" />
<path d="M 341.0 393.0 L 348.0 393.0 L 348.0 401.0 L 341.0 401.0 Z" fill="#1d1d1b" stroke="none" stroke-width="1.7" stroke-linejoin="round" />
<path d="M 490 393 L 483 393 L 483 401 L 490 401 Z" fill="#1d1d1b" stroke="none" stroke-width="1.7" stroke-linejoin="round" />
<path d="M 500.5 294 L 533.5 294 L 533.5 367.5 L 500.5 367.5 Z" fill="#f6e258" stroke="none"/>
<path d="M 500.5 294 L 533.5 294 L 533.5 367.5 L 500.5 367.5 Z" fill="url(#hyb)" stroke="#1d1d1b" stroke-width="1.7" stroke-linejoin="round" />
<path d="M 513.2 287.3 L 501.8 287.3 L 501.8 320 L 524.3 320 L 524.3 295 L 513.2 295 Z" fill="#f5cc22" stroke="none"/>
<path d="M 513.2 287.3 L 501.8 287.3 L 501.8 320 L 524.3 320 L 524.3 295 L 513.2 295 Z" fill="url(#hx)" stroke="#1d1d1b" stroke-width="1.7" stroke-linejoin="round" />
<circle cx="506.7" cy="311.4" r="6.2" fill="#1d1d1b"/>
<path d="M 501.25 327 L 526.25 327 L 526.25 332 L 501.25 332 Z" fill="#fff" stroke="#1d1d1b" stroke-width="1.0" stroke-linejoin="round" />
<path d="M 501.25 367.5 L 533.5 367.5 L 533.5 373 L 501.25 373 Z" fill="#fff" stroke="#1d1d1b" stroke-width="1.0" stroke-linejoin="round" />
<line x1="506.5" y1="332" x2="506.5" y2="367.5" stroke="#1d1d1b" stroke-width="1.0"/>
<line x1="521.5" y1="332" x2="521.5" y2="367.5" stroke="#1d1d1b" stroke-width="1.0"/>
<path d="M 507 329 L 521 331.6 L 507 334.2 L 521 336.8 L 507 339.4 L 521 342.0 L 507 344.6 L 521 347.2 L 507 349.8 L 521 352.4 L 507 355.0 L 521 357.6 L 507 360.2 L 521 362.8 L 507 365.4 L 521 368.0 L 507 370.6" fill="none" stroke="#1d1d1b" stroke-width="1.3" stroke-linejoin="round" />
<path d="M 322.7 431 L 334.5 431 L 334.5 485 L 325 485 L 322.5 479 Q 324 471 318 464.5 L 312.3 463 L 312.3 455 L 318 450.5 Q 324 443 322.7 431 Z" fill="#4a6ebd" stroke="none"/>
<path d="M 322.7 431 L 334.5 431 L 334.5 485 L 325 485 L 322.5 479 Q 324 471 318 464.5 L 312.3 463 L 312.3 455 L 318 450.5 Q 324 443 322.7 431 Z" fill="url(#hbb)" stroke="#1d1d1b" stroke-width="1.7" stroke-linejoin="round" />
<path d="M 508.3 431 L 496.5 431 L 496.5 485 L 506 485 L 508.5 479 Q 507 471 513 464.5 L 518.7 463 L 518.7 455 L 513 450.5 Q 507 443 508.3 431 Z" fill="#4a6ebd" stroke="none"/>
<path d="M 508.3 431 L 496.5 431 L 496.5 485 L 506 485 L 508.5 479 Q 507 471 513 464.5 L 518.7 463 L 518.7 455 L 513 450.5 Q 507 443 508.3 431 Z" fill="url(#hbb)" stroke="#1d1d1b" stroke-width="1.7" stroke-linejoin="round" />
<circle cx="315.6" cy="443.4" r="6.8" fill="#1d1d1b"/>
<circle cx="515.4" cy="443.4" r="6.8" fill="#1d1d1b"/>
<circle cx="315.6" cy="471.4" r="6.8" fill="#1d1d1b"/>
<circle cx="515.4" cy="471.4" r="6.8" fill="#1d1d1b"/>
<path d="M 291.5 456 L 311.5 456 L 311.5 462 Q 308 470 311 478 L 320 486 L 320 491.6 L 298 491.6 L 298 484.5 L 291.5 484.5 Z" fill="#78a5d7" stroke="none"/>
<path d="M 291.5 456 L 311.5 456 L 311.5 462 Q 308 470 311 478 L 320 486 L 320 491.6 L 298 491.6 L 298 484.5 L 291.5 484.5 Z" fill="url(#hb)" stroke="#1d1d1b" stroke-width="1.7" stroke-linejoin="round" />
<path d="M 539.5 456 L 519.5 456 L 519.5 462 Q 523 470 520 478 L 511 486 L 511 491.6 L 533 491.6 L 533 484.5 L 539.5 484.5 Z" fill="#78a5d7" stroke="none"/>
<path d="M 539.5 456 L 519.5 456 L 519.5 462 Q 523 470 520 478 L 511 486 L 511 491.6 L 533 491.6 L 533 484.5 L 539.5 484.5 Z" fill="url(#hb)" stroke="#1d1d1b" stroke-width="1.7" stroke-linejoin="round" />
<line x1="292.5" y1="458.3" x2="311" y2="458.3" stroke="#e4eefa" stroke-width="4" stroke-dasharray="1.5 1.7"/>
<line x1="538.5" y1="458.3" x2="520" y2="458.3" stroke="#e4eefa" stroke-width="4" stroke-dasharray="1.5 1.7"/>
<line x1="291.5" y1="461" x2="311" y2="461" stroke="#1d1d1b" stroke-width="1.0"/>
<line x1="539.5" y1="461" x2="520" y2="461" stroke="#1d1d1b" stroke-width="1.0"/>
<path d="M 298 492 L 313 492 L 313 496.5 L 298 496.5 Z" fill="#78a5d7" stroke="#1d1d1b" stroke-width="0.8" stroke-linejoin="round" />
<path d="M 533 492 L 518 492 L 518 496.5 L 533 496.5 Z" fill="#78a5d7" stroke="#1d1d1b" stroke-width="0.8" stroke-linejoin="round" />
<line x1="299" y1="494.3" x2="312.5" y2="494.3" stroke="#e4eefa" stroke-width="3.4" stroke-dasharray="1.5 1.7"/>
<line x1="532" y1="494.3" x2="518.5" y2="494.3" stroke="#e4eefa" stroke-width="3.4" stroke-dasharray="1.5 1.7"/>
<line x1="320" y1="487.5" x2="352" y2="487.5" stroke="#1d1d1b" stroke-width="0.9"/>
<line x1="511" y1="487.5" x2="479" y2="487.5" stroke="#1d1d1b" stroke-width="0.9"/>
<line x1="320" y1="491.2" x2="352" y2="491.2" stroke="#1d1d1b" stroke-width="0.9"/>
<line x1="511" y1="491.2" x2="479" y2="491.2" stroke="#1d1d1b" stroke-width="0.9"/>
<line x1="320" y1="497" x2="352" y2="497" stroke="#1d1d1b" stroke-width="0.9"/>
<line x1="511" y1="497" x2="479" y2="497" stroke="#1d1d1b" stroke-width="0.9"/>
<line x1="334.5" y1="431" x2="349" y2="431" stroke="#1d1d1b" stroke-width="1.0"/>
<line x1="496.5" y1="431" x2="482" y2="431" stroke="#1d1d1b" stroke-width="1.0"/>
<path d="M 348 210 Q 356.5 222 348 234 Z" fill="#fff" stroke="none" stroke-width="1.7" stroke-linejoin="round" />
<path d="M 483 210 Q 474.5 222 483 234 Z" fill="#fff" stroke="none" stroke-width="1.7" stroke-linejoin="round" />
<line x1="415.5" y1="7" x2="415.5" y2="53" stroke="#1d1d1b" stroke-width="0.9" stroke-dasharray="20 3 5 3"/>
<line x1="415.5" y1="88" x2="415.5" y2="613.5" stroke="#1d1d1b" stroke-width="0.9" stroke-dasharray="42 3 8 3"/>
<line x1="91.5" y1="171.5" x2="303" y2="171.5" stroke="#1d1d1b" stroke-width="0.9"/>
<line x1="91.5" y1="234.5" x2="203" y2="234.5" stroke="#1d1d1b" stroke-width="0.9"/>
<line x1="92" y1="482.6" x2="144.5" y2="482.6" stroke="#1d1d1b" stroke-width="0.9"/>
<line x1="99" y1="171.5" x2="99" y2="551" stroke="#1d1d1b" stroke-width="0.9"/>
<polygon points="99,171.5 96.9,181.5 101.1,181.5" fill="#1d1d1b"/>
<polygon points="99,234.5 96.9,224.5 101.1,224.5" fill="#1d1d1b"/>
<polygon points="99,234.5 96.9,244.5 101.1,244.5" fill="#1d1d1b"/>
<polygon points="99,482.6 96.9,472.6 101.1,472.6" fill="#1d1d1b"/>
<polygon points="99,482.6 96.9,492.6 101.1,492.6" fill="#1d1d1b"/>
<polygon points="99,521 96.9,511 101.1,511" fill="#1d1d1b"/>
<polygon points="99,535 96.9,543 101.1,543" fill="#1d1d1b"/>
<line x1="61.5" y1="504" x2="61.5" y2="521" stroke="#1d1d1b" stroke-width="0.9"/>
<line x1="61.5" y1="551" x2="61.5" y2="606" stroke="#1d1d1b" stroke-width="0.9"/>
<polygon points="61.5,521 59.4,511 63.6,511" fill="#1d1d1b"/>
<polygon points="61.5,551 59.4,561 63.6,561" fill="#1d1d1b"/>
<line x1="192" y1="209" x2="256" y2="209" stroke="#1d1d1b" stroke-width="0.9"/>
<line x1="212" y1="205" x2="212" y2="234.5" stroke="#1d1d1b" stroke-width="0.9"/>
<line x1="239" y1="205" x2="239" y2="234.5" stroke="#1d1d1b" stroke-width="0.9"/>
<polygon points="212,209 202,206.9 202,211.1" fill="#1d1d1b"/>
<polygon points="239,209 249,206.9 249,211.1" fill="#1d1d1b"/>
<line x1="143" y1="439" x2="214.5" y2="439" stroke="#1d1d1b" stroke-width="0.9"/>
<line x1="160.3" y1="434" x2="160.3" y2="482.5" stroke="#1d1d1b" stroke-width="0.9"/>
<line x1="196.8" y1="434" x2="196.8" y2="482.5" stroke="#1d1d1b" stroke-width="0.9"/>
<polygon points="160.3,439 150.3,436.9 150.3,441.1" fill="#1d1d1b"/>
<polygon points="196.8,439 206.8,436.9 206.8,441.1" fill="#1d1d1b"/>
<line x1="632" y1="441" x2="673" y2="441" stroke="#1d1d1b" stroke-width="0.9"/>
<line x1="632" y1="434" x2="632" y2="482.5" stroke="#1d1d1b" stroke-width="0.9"/>
<line x1="673" y1="434" x2="673" y2="482.5" stroke="#1d1d1b" stroke-width="0.9"/>
<polygon points="632,441 642,438.9 642,443.1" fill="#1d1d1b"/>
<polygon points="673,441 663,438.9 663,443.1" fill="#1d1d1b"/>
<line x1="528.5" y1="30.5" x2="731" y2="30.5" stroke="#1d1d1b" stroke-width="0.9"/>
<line x1="628.5" y1="93.75" x2="731" y2="93.75" stroke="#1d1d1b" stroke-width="0.9"/>
<line x1="686.75" y1="482.6" x2="731" y2="482.6" stroke="#1d1d1b" stroke-width="0.9"/>
<line x1="724.4" y1="30.5" x2="724.4" y2="482.6" stroke="#1d1d1b" stroke-width="0.9"/>
<polygon points="724.4,30.5 722.3,40.5 726.5,40.5" fill="#1d1d1b"/>
<polygon points="724.4,93.75 722.3,83.75 726.5,83.75" fill="#1d1d1b"/>
<polygon points="724.4,93.75 722.3,103.75 726.5,103.75" fill="#1d1d1b"/>
<polygon points="724.4,482.6 722.3,472.6 726.5,472.6" fill="#1d1d1b"/>
<line x1="350" y1="83.75" x2="481" y2="83.75" stroke="#1d1d1b" stroke-width="0.9"/>
<polygon points="350,83.75 360,81.65 360,85.85" fill="#1d1d1b"/>
<polygon points="481,83.75 471,81.65 471,85.85" fill="#1d1d1b"/>
<line x1="460" y1="309" x2="460" y2="521.5" stroke="#1d1d1b" stroke-width="0.9"/>
<polygon points="460,309 457.9,319 462.1,319" fill="#1d1d1b"/>
<polygon points="460,424.5 457.9,414.5 462.1,414.5" fill="#1d1d1b"/>
<polygon points="460,424.5 457.9,434.5 462.1,434.5" fill="#1d1d1b"/>
<polygon points="460,521.5 457.9,511.5 462.1,511.5" fill="#1d1d1b"/>
<line x1="340" y1="507" x2="491" y2="507" stroke="#1d1d1b" stroke-width="0.9"/>
<polygon points="348.5,507 343.5,504.9 343.5,509.1" fill="#1d1d1b"/>
<polygon points="482.5,507 487.5,504.9 487.5,509.1" fill="#1d1d1b"/>
<line x1="348.3" y1="431" x2="348.3" y2="513.5" stroke="#1d1d1b" stroke-width="0.9"/>
<line x1="482.7" y1="431" x2="482.7" y2="513.5" stroke="#1d1d1b" stroke-width="0.9"/>
<line x1="231" y1="644.75" x2="600" y2="644.75" stroke="#1d1d1b" stroke-width="0.9"/>
<polygon points="231,644.75 241,642.65 241,646.85" fill="#1d1d1b"/>
<polygon points="600,644.75 590,642.65 590,646.85" fill="#1d1d1b"/>
<line x1="216.75" y1="680" x2="614.25" y2="680" stroke="#1d1d1b" stroke-width="0.9"/>
<polygon points="216.75,680 226.75,677.9 226.75,682.1" fill="#1d1d1b"/>
<polygon points="614.25,680 604.25,677.9 604.25,682.1" fill="#1d1d1b"/>
<line x1="178.4" y1="718.5" x2="652.6" y2="718.5" stroke="#1d1d1b" stroke-width="0.9"/>
<polygon points="178.4,718.5 188.4,716.4 188.4,720.6" fill="#1d1d1b"/>
<polygon points="652.6,718.5 642.6,716.4 642.6,720.6" fill="#1d1d1b"/>
<line x1="144.7" y1="753" x2="686.3" y2="753" stroke="#1d1d1b" stroke-width="0.9"/>
<polygon points="144.7,753 154.7,750.9 154.7,755.1" fill="#1d1d1b"/>
<polygon points="686.3,753 676.3,750.9 676.3,755.1" fill="#1d1d1b"/>
<line x1="231" y1="592" x2="231" y2="652" stroke="#1d1d1b" stroke-width="0.9"/>
<line x1="600" y1="592" x2="600" y2="652" stroke="#1d1d1b" stroke-width="0.9"/>
<line x1="216.75" y1="551" x2="216.75" y2="688" stroke="#1d1d1b" stroke-width="0.9"/>
<line x1="614.25" y1="551" x2="614.25" y2="688" stroke="#1d1d1b" stroke-width="0.9"/>
<line x1="178.4" y1="470" x2="178.4" y2="726" stroke="#1d1d1b" stroke-width="0.9"/>
<line x1="652.6" y1="462" x2="652.6" y2="726" stroke="#1d1d1b" stroke-width="0.9"/>
<line x1="144.7" y1="521" x2="144.7" y2="761" stroke="#1d1d1b" stroke-width="0.9"/>
<line x1="686.3" y1="521" x2="686.3" y2="761" stroke="#1d1d1b" stroke-width="0.9"/>
<line x1="632" y1="521" x2="632" y2="574" stroke="#1d1d1b" stroke-width="0.9"/>
<line x1="673" y1="521" x2="673" y2="574" stroke="#1d1d1b" stroke-width="0.9"/>
<line x1="364.5" y1="241.5" x2="312" y2="256.5" stroke="#1d1d1b" stroke-width="1.1"/>
<line x1="364.5" y1="263.5" x2="322" y2="270" stroke="#1d1d1b" stroke-width="1.1"/>
<line x1="364.5" y1="286" x2="320.75" y2="299" stroke="#1d1d1b" stroke-width="1.1"/>
<line x1="364.5" y1="299.5" x2="327" y2="309" stroke="#1d1d1b" stroke-width="1.1"/>
<line x1="365" y1="375" x2="335" y2="393" stroke="#1d1d1b" stroke-width="1.1"/>
<line x1="365" y1="413" x2="325" y2="415.75" stroke="#1d1d1b" stroke-width="1.1"/>
<line x1="365" y1="446.5" x2="318" y2="439.5" stroke="#1d1d1b" stroke-width="1.1"/>
<line x1="365" y1="464" x2="326" y2="458" stroke="#1d1d1b" stroke-width="1.1"/>
<line x1="365" y1="485.75" x2="318" y2="472" stroke="#1d1d1b" stroke-width="1.1"/>
<circle cx="322" cy="270" r="1.5" fill="#1d1d1b"/>
<circle cx="320.75" cy="299" r="1.5" fill="#1d1d1b"/>
<circle cx="325" cy="415.75" r="1.5" fill="#1d1d1b"/>
<circle cx="326" cy="458" r="1.5" fill="#1d1d1b"/>
<line x1="191" y1="398" x2="212" y2="398" stroke="#1d1d1b" stroke-width="1.7"/>
<polygon points="209.3,389.2 237.6,398 209.3,406.8" fill="#1d1d1b"/>
<line x1="182" y1="395" x2="194" y2="395" stroke="#1d1d1b" stroke-width="1.6"/>
<line x1="182" y1="401" x2="194" y2="401" stroke="#1d1d1b" stroke-width="1.6"/>
<line x1="600" y1="295" x2="621" y2="295" stroke="#1d1d1b" stroke-width="1.7"/>
<polygon points="619,286 648.5,295 619,304" fill="#1d1d1b"/>
<line x1="592" y1="291.8" x2="603.5" y2="291.8" stroke="#1d1d1b" stroke-width="1.6"/>
<line x1="592" y1="298.3" x2="603.5" y2="298.3" stroke="#1d1d1b" stroke-width="1.6"/>
<text transform="translate(206.5 192.75) scale(0.72 1)" font-size="19" text-anchor="start" >2 x M<tspan font-size="12" dy="4">1</tspan></text>
<text transform="translate(156.8 422) scale(0.72 1)" font-size="19" text-anchor="start" >2 x M<tspan font-size="12" dy="4">2</tspan></text>
<text transform="translate(185 372.5) scale(0.7 1)" font-size="19" text-anchor="start" >A</text>
<text transform="translate(648.5 285) scale(0.7 1)" font-size="19" text-anchor="start" >B</text>
<text transform="translate(647.3 251.3) scale(0.6 1)" font-size="19" text-anchor="start" >C</text>
<text transform="translate(626 206.75) scale(0.6 1)" font-size="19" text-anchor="start" >G</text>
<text transform="translate(399.5 72.5) scale(0.72 1)" font-size="19" text-anchor="start" >d<tspan font-size="12" dy="4">7</tspan><tspan dy="-4"> h</tspan><tspan font-size="12" dy="4">6</tspan></text>
<text transform="translate(397.5 499.5) scale(0.72 1)" font-size="19" text-anchor="start" >d<tspan font-size="12" dy="4">1</tspan><tspan dy="-4"> h</tspan><tspan font-size="12" dy="4">8</tspan></text>
<text transform="translate(368 249.5) scale(0.56 1)" font-size="20" text-anchor="start" >13</text>
<text transform="translate(368 269.5) scale(0.56 1)" font-size="20" text-anchor="start" >12</text>
<text transform="translate(370 287.5) scale(0.56 1)" font-size="20" text-anchor="start" >1</text>
<text transform="translate(369 305.5) scale(0.56 1)" font-size="20" text-anchor="start" >6</text>
<text transform="translate(370 380.5) scale(0.56 1)" font-size="20" text-anchor="start" >7</text>
<text transform="translate(370 419.5) scale(0.56 1)" font-size="20" text-anchor="start" >2</text>
<text transform="translate(368 452) scale(0.56 1)" font-size="20" text-anchor="start" >14</text>
<text transform="translate(368 469.5) scale(0.56 1)" font-size="20" text-anchor="start" >11</text>
<text transform="translate(368 492) scale(0.56 1)" font-size="20" text-anchor="start" >15</text>
<text transform="translate(414.7 638.5) scale(0.72 1)" font-size="19" text-anchor="middle" >d<tspan font-size="12" dy="4">8</tspan></text>
<text transform="translate(400.5 674) scale(0.72 1)" font-size="19" text-anchor="start" >d<tspan font-size="12" dy="4">4</tspan></text>
<text transform="translate(418.5 665) scale(0.72 1)" font-size="11" text-anchor="start" >H8</text>
<text transform="translate(418.5 677.5) scale(0.72 1)" font-size="11" text-anchor="start" >f8</text>
<text transform="translate(414.5 712) scale(0.72 1)" font-size="19" text-anchor="middle" >k<tspan font-size="12" dy="4">1</tspan></text>
<text transform="translate(411.5 747) scale(0.72 1)" font-size="19" text-anchor="middle" >d</text>
<text transform="translate(89 203) rotate(-90) scale(0.72 1)" font-size="19" text-anchor="middle" >l<tspan font-size="12" dy="4">2</tspan></text>
<text transform="translate(89.5 358) rotate(-90) scale(0.72 1)" font-size="19" text-anchor="middle" >L<tspan font-size="12" dy="4">1</tspan></text>
<text transform="translate(89.5 504) rotate(-90) scale(0.72 1)" font-size="19" text-anchor="middle" >l<tspan font-size="12" dy="4">1</tspan></text>
<text transform="translate(92.5 527.8) rotate(-90) scale(0.72 1)" font-size="19" text-anchor="middle" >7</text>
<text transform="translate(58.2 603) rotate(-90) scale(0.72 1)" font-size="19" text-anchor="start" >15</text>
<text transform="translate(53.3 585) rotate(-90) scale(0.98 1)" font-size="10.5" text-anchor="start" >±0,1</text>
<text transform="translate(716 64) rotate(-90) scale(0.72 1)" font-size="19" text-anchor="middle" >l<tspan font-size="12" dy="4">3</tspan></text>
<text transform="translate(716 277) rotate(-90) scale(0.72 1)" font-size="19" text-anchor="middle" >L<tspan font-size="12" dy="4">2</tspan></text>
<text transform="translate(451 369.5) rotate(-90) scale(0.72 1)" font-size="19" text-anchor="middle" >l<tspan font-size="12" dy="4">5</tspan></text>
<text transform="translate(451 476) rotate(-90) scale(0.72 1)" font-size="19" text-anchor="middle" >l<tspan font-size="12" dy="4">4</tspan></text>
<text transform="translate(645 430) scale(0.72 1)" font-size="19" text-anchor="start" >d<tspan font-size="12" dy="4">2</tspan></text>
</svg>
</body></html>
